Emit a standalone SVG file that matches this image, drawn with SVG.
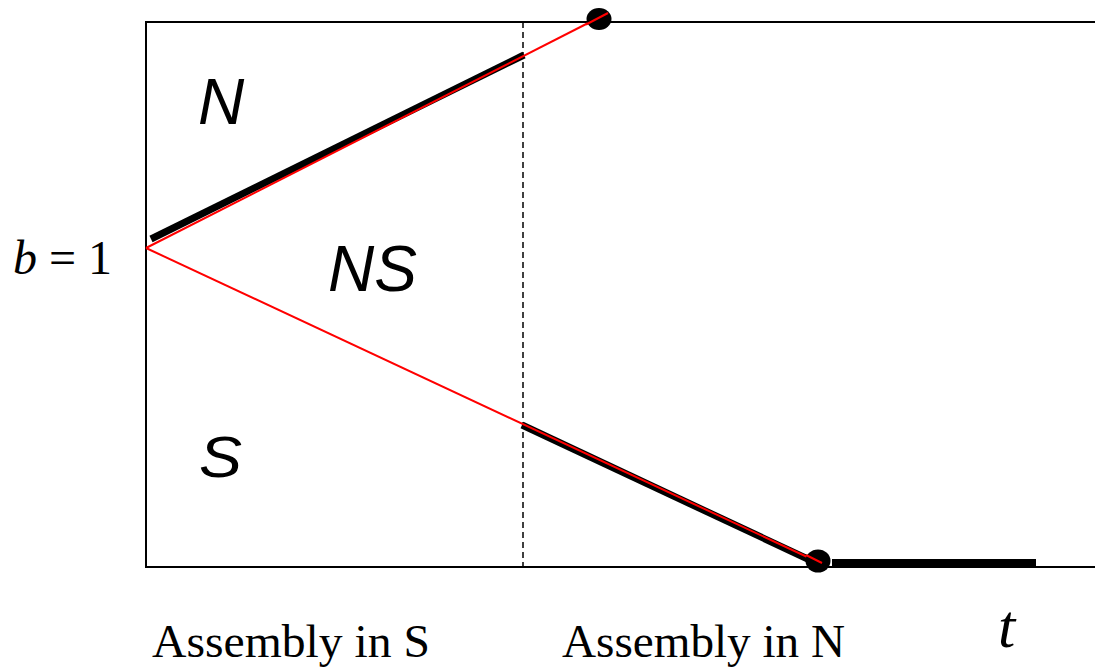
<svg xmlns="http://www.w3.org/2000/svg" width="1095" height="670" viewBox="0 0 1095 670">
<style>
.ax{stroke:#000;stroke-width:2;fill:none}
.thick{stroke:#000;stroke-width:7;fill:none}
.red{stroke:#ff0000;stroke-width:2;fill:none}
.sans{font-family:"Liberation Sans",Arial,sans-serif;font-style:italic;fill:#000}
.serif{font-family:"Liberation Serif","Times New Roman",serif;fill:#000}
</style>
<rect width="1095" height="670" fill="#fff"/>
<g id="frame">
<polyline class="ax" points="1095,22 146,22 146,567 1095,567"/>
<line x1="523" y1="22" x2="523" y2="567" stroke="#000" stroke-width="1.5" stroke-dasharray="6,4"/>
</g>
<g id="connectors">
<line class="thick" x1="151" y1="239" x2="524" y2="55"/>
<line class="red" x1="146" y1="248" x2="598" y2="18"/>
<line class="thick" x1="522" y1="425" x2="812" y2="561"/>
<line class="red" x1="146" y1="248" x2="818" y2="562"/>
<line stroke="#000" stroke-width="7" x1="832" y1="562.5" x2="1036" y2="562.5"/>
</g>
<g id="dot-top"><ellipse cx="599" cy="19" rx="12.5" ry="11" fill="#000"/><line class="red" x1="586" y1="24.5" x2="608" y2="13"/></g>
<g id="dot-bottom"><ellipse cx="818" cy="561" rx="12.5" ry="11.5" fill="#000"/><line class="red" x1="806" y1="555" x2="822" y2="563"/></g>
<g id="labels">
<text class="sans" x="198" y="124" font-size="64">N</text>
<text class="sans" x="328" y="291" font-size="64">NS</text>
<text class="sans" x="199" y="477" font-size="57" textLength="43" lengthAdjust="spacingAndGlyphs">S</text>
<text class="serif" x="13" y="274" font-size="48"><tspan font-style="italic">b</tspan> = 1</text>
<text class="serif" x="152" y="657" font-size="47" textLength="278" lengthAdjust="spacingAndGlyphs">Assembly in S</text>
<text class="serif" x="562" y="657" font-size="47" textLength="283" lengthAdjust="spacingAndGlyphs">Assembly in N</text>
<text class="serif" x="998" y="647" font-size="62" font-style="italic">t</text>
</g>
</svg>
